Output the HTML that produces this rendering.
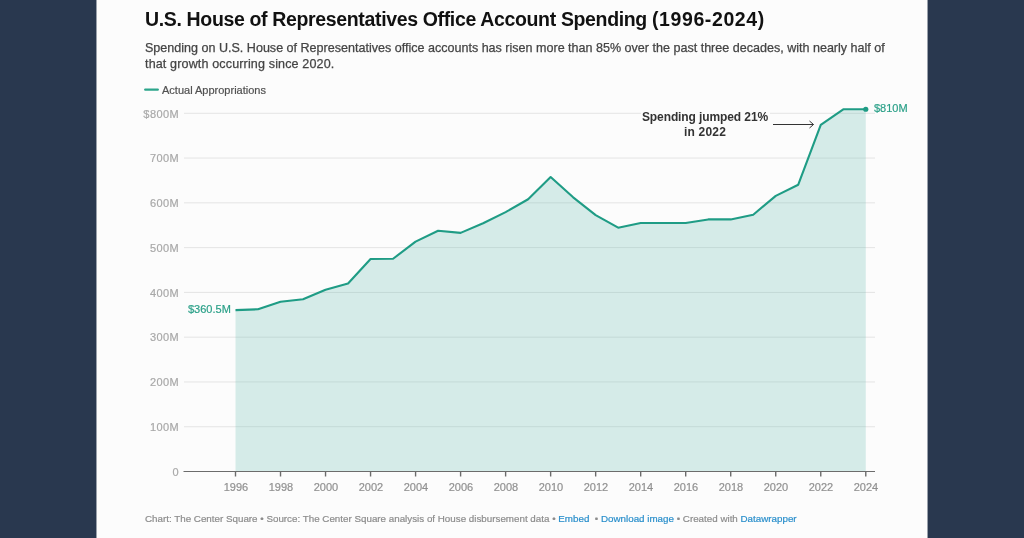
<!DOCTYPE html>
<html><head><meta charset="utf-8">
<style>
*{margin:0;padding:0;box-sizing:border-box}
html,body{width:1024px;height:538px;overflow:hidden;background:#29384f;font-family:"Liberation Sans",sans-serif}
#panel{position:absolute;left:97px;top:0;width:830px;height:538px;background:#fcfcfc}
.t{position:absolute;white-space:nowrap;line-height:1}
.t,.yl,.xl,.ann{will-change:transform}
#title{left:144.5px;top:10px;font-size:19.5px;letter-spacing:-0.35px;font-weight:bold;color:#111}
#desc1,#desc2{left:144.5px;font-size:12.55px;color:#444;-webkit-text-stroke:0.25px #444}
#desc1{top:42.3px}
#desc2{top:57.9px;letter-spacing:0.14px}
#legtxt{left:162px;top:84.7px;font-size:11px;color:#505050;-webkit-text-stroke:0.2px #505050}
.yl{position:absolute;left:118.6px;width:60px;letter-spacing:0.4px;font-size:11px;color:#a8a8a8;-webkit-text-stroke:0.2px #a8a8a8;line-height:1;white-space:nowrap;text-align:right}
.xl{position:absolute;top:482.4px;width:40px;font-size:11px;color:#909090;-webkit-text-stroke:0.2px #909090;line-height:1;white-space:nowrap;text-align:center}
#foot{left:144.5px;top:513.7px;font-size:9.8px;color:#8c8c8c;-webkit-text-stroke:0.2px #8c8c8c}
#foot a{color:#2a8fcb;-webkit-text-stroke:0.2px #2a8fcb;text-decoration:none}
.ann{position:absolute;left:641px;width:128px;text-align:center;font-size:12px;font-weight:bold;color:#333;line-height:1;white-space:nowrap}
svg{position:absolute;left:0;top:0}
</style></head><body>
<div id="panel"></div><div style="position:absolute;left:96px;top:0;width:1px;height:538px;background:#9aa1ab"></div><div style="position:absolute;left:927px;top:0;width:1px;height:538px;background:#9aa1ab"></div>
<div class="t" id="title">U.S. House of Representatives Office Account Spending <span id="yrs" style="letter-spacing:0.6px">(1996-2024)</span></div>
<div class="t" id="desc1">Spending on U.S. House of Representatives office accounts has risen more than 85% over the past three decades, with nearly half of</div>
<div class="t" id="desc2">that growth occurring since 2020.</div>
<div class="t" id="legtxt">Actual Appropriations</div>

<svg width="1024" height="538" viewBox="0 0 1024 538">
  <line x1="145.25" x2="157.75" y1="89.6" y2="89.6" stroke="#2ca58b" stroke-width="2.4" stroke-linecap="round"/>
  <g stroke="#e4e4e4" stroke-width="1"><line x1="184" x2="875" y1="426.73" y2="426.73"/><line x1="184" x2="875" y1="381.95" y2="381.95"/><line x1="184" x2="875" y1="337.18" y2="337.18"/><line x1="184" x2="875" y1="292.40" y2="292.40"/><line x1="184" x2="875" y1="247.62" y2="247.62"/><line x1="184" x2="875" y1="202.85" y2="202.85"/><line x1="184" x2="875" y1="158.07" y2="158.07"/><line x1="184" x2="641" y1="113.30" y2="113.30"/><line x1="770" x2="875" y1="113.30" y2="113.30"/></g>
  <polygon fill="rgb(62,172,157)" fill-opacity="0.2" points="235.50,471.5 235.50,310.09 258.01,309.28 280.52,301.80 303.03,299.21 325.54,289.71 348.05,283.53 370.56,258.95 393.07,258.77 415.58,241.58 438.09,230.79 460.60,232.89 483.11,223.31 505.62,212.12 528.13,199.27 550.64,177.01 573.15,197.34 595.66,215.12 618.17,227.70 640.68,223.00 663.19,223.00 685.70,223.00 708.21,219.42 730.72,219.42 753.23,214.72 775.74,195.91 798.25,184.72 820.76,124.94 843.27,109.27 865.78,109.27 865.78,471.5"/>
  <polyline fill="none" stroke="#1f9c85" stroke-width="2.1" stroke-linejoin="round" points="235.50,310.09 258.01,309.28 280.52,301.80 303.03,299.21 325.54,289.71 348.05,283.53 370.56,258.95 393.07,258.77 415.58,241.58 438.09,230.79 460.60,232.89 483.11,223.31 505.62,212.12 528.13,199.27 550.64,177.01 573.15,197.34 595.66,215.12 618.17,227.70 640.68,223.00 663.19,223.00 685.70,223.00 708.21,219.42 730.72,219.42 753.23,214.72 775.74,195.91 798.25,184.72 820.76,124.94 843.27,109.27 865.78,109.27"/>
  <circle cx="865.78" cy="109.27" r="2.6" fill="#1f9c85"/>
  <line x1="183.5" x2="875" y1="471.5" y2="471.5" stroke="#6c6c6c" stroke-width="1.2"/>
  <g stroke="#6c6c6c" stroke-width="1.4"><line x1="235.50" x2="235.50" y1="471" y2="476.5"/><line x1="280.52" x2="280.52" y1="471" y2="476.5"/><line x1="325.54" x2="325.54" y1="471" y2="476.5"/><line x1="370.56" x2="370.56" y1="471" y2="476.5"/><line x1="415.58" x2="415.58" y1="471" y2="476.5"/><line x1="460.60" x2="460.60" y1="471" y2="476.5"/><line x1="505.62" x2="505.62" y1="471" y2="476.5"/><line x1="550.64" x2="550.64" y1="471" y2="476.5"/><line x1="595.66" x2="595.66" y1="471" y2="476.5"/><line x1="640.68" x2="640.68" y1="471" y2="476.5"/><line x1="685.70" x2="685.70" y1="471" y2="476.5"/><line x1="730.72" x2="730.72" y1="471" y2="476.5"/><line x1="775.74" x2="775.74" y1="471" y2="476.5"/><line x1="820.76" x2="820.76" y1="471" y2="476.5"/><line x1="865.78" x2="865.78" y1="471" y2="476.5"/></g>
  <g fill="none" stroke="#333" stroke-width="1">
    <line x1="773" x2="813.5" y1="124.5" y2="124.5"/>
    <polyline points="809.5,121 813.5,124.5 809.5,128"/>
  </g>
</svg>
<div class="yl" style="top:466.80px">0</div>
<div class="yl" style="top:422.03px">100M</div>
<div class="yl" style="top:377.25px">200M</div>
<div class="yl" style="top:332.48px">300M</div>
<div class="yl" style="top:287.70px">400M</div>
<div class="yl" style="top:242.93px">500M</div>
<div class="yl" style="top:198.15px">600M</div>
<div class="yl" style="top:153.38px">700M</div>
<div class="yl" style="top:108.60px">$800M</div>

<div class="xl" style="left:215.80px">1996</div>
<div class="xl" style="left:260.82px">1998</div>
<div class="xl" style="left:305.84px">2000</div>
<div class="xl" style="left:350.86px">2002</div>
<div class="xl" style="left:395.88px">2004</div>
<div class="xl" style="left:440.90px">2006</div>
<div class="xl" style="left:485.92px">2008</div>
<div class="xl" style="left:530.94px">2010</div>
<div class="xl" style="left:575.96px">2012</div>
<div class="xl" style="left:620.98px">2014</div>
<div class="xl" style="left:666.00px">2016</div>
<div class="xl" style="left:711.02px">2018</div>
<div class="xl" style="left:756.04px">2020</div>
<div class="xl" style="left:801.06px">2022</div>
<div class="xl" style="left:846.08px">2024</div>

<div class="t" id="lab360" style="left:188px;top:303.9px;font-size:11px;color:#2ba088;-webkit-text-stroke:0.2px #2ba088">$360.5M</div>
<div class="t" id="lab810" style="left:873.5px;top:103.1px;font-size:11px;color:#2ba088;-webkit-text-stroke:0.2px #2ba088">$810M</div>
<div class="ann" id="ann1" style="top:110.9px;letter-spacing:-0.1px">Spending jumped 21%</div>
<div class="ann" id="ann2" style="top:126.2px;letter-spacing:0.2px">in 2022</div>
<div class="t" id="foot">Chart: The Center Square • Source: The Center Square analysis of House disbursement data • <a>Embed</a>&nbsp; • <a>Download image</a> • Created with <a>Datawrapper</a></div>
</body></html>
